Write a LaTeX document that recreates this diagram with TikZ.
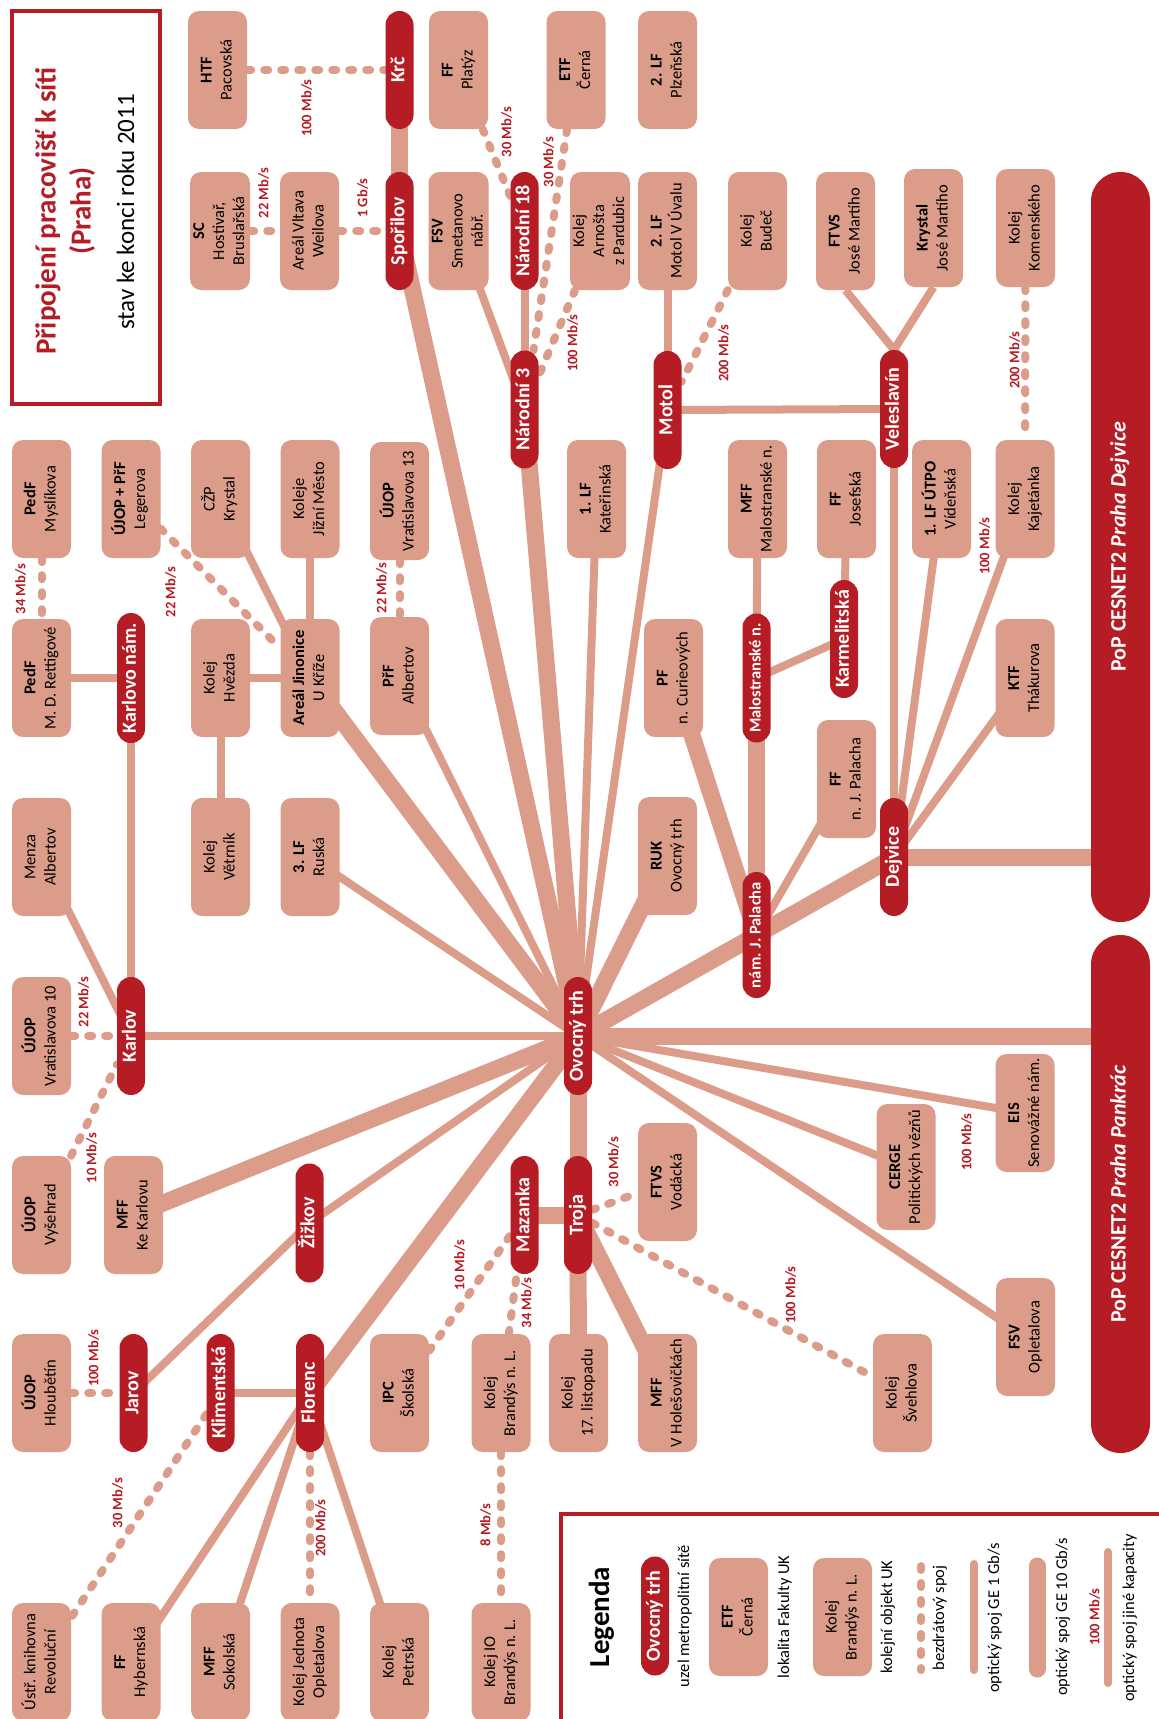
\documentclass[tikz,border=0pt]{standalone}
\usepackage{fontspec}
\setmainfont{Carlito}
\usepackage{graphicx}
\usepackage{xcolor}
\usepackage{tikz}
\usetikzlibrary{backgrounds}
\definecolor{cuni}{RGB}{181,28,36}
\definecolor{peach}{RGB}{219,157,137}
\newcommand{\vtxt}[1]{\rotatebox{90}{\begin{tabular}{@{}c@{}}#1\end{tabular}}}

\begin{document}
\begin{tikzpicture}[x=1pt, y=-1pt,
  every node/.style={inner sep=0pt, align=center},
  site/.style={fill=peach, rounded corners=11pt, minimum width=59pt, minimum height=118pt, font=\fontsize{16.5}{20}\selectfont},
  hub/.style={fill=cuni, text=white, rounded corners=13.9pt, minimum width=28pt, minimum height=118pt, font=\bfseries\fontsize{20}{24}\selectfont},
  hubsm/.style={hub, font=\bfseries\fontsize{16.5}{20}\selectfont},
  pop/.style={fill=cuni, text=white, rounded corners=29.4pt, minimum width=59pt, font=\bfseries\fontsize{22}{26}\selectfont},
  rate/.style={text=cuni, font=\bfseries\fontsize{14.5}{17}\selectfont},
  gbit/.style={draw=peach, line width=8pt},
  tengbit/.style={draw=peach, line width=17pt},
  wless/.style={draw=peach, line width=8pt, line cap=round, dash pattern=on 4pt off 13pt}]
\useasboundingbox (0,0) rectangle (1159,1719);

\draw[cuni, line width=4pt, fill=white] (12,11) rectangle (160,404);
\node[text=cuni, font=\bfseries\fontsize{29}{35}\selectfont] (title) at (66,211) {\vtxt{Připojení pracovišť k síti\\(Praha)}};
\node[font=\fontsize{25}{30}\selectfont] (subtitle) at (128,212) {\vtxt{stav ke konci roku 2011}};

\node[site] (htf) at (217.5,70) {\vtxt{\textbf{HTF}\\Pacovská}};
\node[hub] (krc) at (399.5,70) {\vtxt{Krč}};
\node[site] (ffplatyz) at (458.5,70) {\vtxt{\textbf{FF}\\Platýz}};
\node[site] (etf) at (576,70) {\vtxt{\textbf{ETF}\\Černá}};
\node[site] (lfplzen) at (667.5,70) {\vtxt{\textbf{2. LF}\\Plzeňská}};

\node[site] (sc) at (220,231) {\vtxt{\textbf{SC}\\Hostivař,\\Bruslařská}};
\node[site] (vltava) at (309.5,231) {\vtxt{Areál Vltava\\Weilova}};
\node[hub] (sporilov) at (399.5,231) {\vtxt{Spořilov}};
\node[site] (fsvsmet) at (458.5,231) {\vtxt{\textbf{FSV}\\Smetanovo\\nábř.}};
\node[hub] (narodni18) at (524.5,231) {\vtxt{Národní 18}};
\node[site] (arnost) at (600,231) {\vtxt{Kolej\\Arnošta\\z Pardubic}};
\node[site] (lfmotol) at (667.5,231) {\vtxt{\textbf{2. LF}\\Motol V Úvalu}};
\node[site] (budec) at (757.5,231) {\vtxt{Kolej\\Budeč}};
\node[site] (ftvsmarti) at (845.5,231) {\vtxt{\textbf{FTVS}\\José Martího}};
\node[site] (krystal) at (933.5,228) {\vtxt{\textbf{Krystal}\\José Martího}};
\node[site] (komensky) at (1025.5,228) {\vtxt{Kolej\\Komenského}};
\node[pop, minimum height=750pt] (popdej) at (1120.5,547) {\vtxt{PoP CESNET2 \textit{Praha Dejvice}}};

\node[hub] (narodni3) at (524.5,409.5) {\vtxt{Národní 3}};
\node[hub] (motol) at (667.5,410) {\vtxt{Motol}};
\node[hub] (veleslavin) at (894,409) {\vtxt{Veleslavín}};

\node[site] (myslik) at (41.5,499) {\vtxt{\textbf{PedF}\\Myslíkova}};
\node[site] (legerova) at (131,499) {\vtxt{\textbf{ÚJOP + PřF}\\Legerova}};
\node[site] (czp) at (220.5,499) {\vtxt{CŽP\\Krystal}};
\node[site] (jizni) at (310,499) {\vtxt{Koleje\\Jižní Město}};
\node[site] (vrat13) at (399.5,501) {\vtxt{\textbf{ÚJOP}\\Vratislavova 13}};
\node[site] (katerin) at (596.5,499) {\vtxt{\textbf{1. LF}\\Kateřinská}};
\node[site] (mffmal) at (757.5,499) {\vtxt{\textbf{MFF}\\Malostranské n.}};
\node[site] (josef) at (846.5,499) {\vtxt{\textbf{FF}\\Josefská}};
\node[site] (utpo) at (941.5,499) {\vtxt{\textbf{1. LF ÚTPO}\\Vídeňská}};
\node[site] (kajetan) at (1025,499) {\vtxt{Kolej\\Kajetánka}};

\node[site] (rettig) at (41.5,678) {\vtxt{\textbf{PedF}\\M. D. Rettigové}};
\node[hub, minimum height=130pt] (karlovonam) at (131,678) {\vtxt{Karlovo nám.}};
\node[site] (hvezda) at (220.5,678) {\vtxt{Kolej\\Hvězda}};
\node[site] (jinonice) at (310,678) {\vtxt{\textbf{Areál Jinonice}\\U Kříže}};
\node[site] (albertov) at (399.5,676) {\vtxt{\textbf{PřF}\\Albertov}};
\node[site] (curie) at (673.5,678) {\vtxt{\textbf{PF}\\n. Curieových}};
\node[hubsm, minimum height=129pt] (malostr) at (756.5,678) {\vtxt{Malostranské n.}};
\node[hub] (karmel) at (844,639) {\vtxt{Karmelitská}};
\node[site] (ktf) at (1025,678) {\vtxt{\textbf{KTF}\\Thákurova}};

\node[site] (menza) at (41.5,857) {\vtxt{Menza\\Albertov}};
\node[site] (vetrnik) at (220.5,857) {\vtxt{Kolej\\Větrník}};
\node[site] (lf3) at (310,857) {\vtxt{\textbf{3. LF}\\Ruská}};
\node[site] (ruk) at (667.5,856) {\vtxt{\textbf{RUK}\\Ovocný trh}};
\node[site] (ffpalach) at (846.5,779) {\vtxt{\textbf{FF}\\n. J. Palacha}};
\node[hubsm, minimum height=126pt] (palach) at (756.5,935) {\vtxt{nám. J. Palacha}};
\node[hub] (dejvice) at (894,857) {\vtxt{Dejvice}};

\node[site] (vrat10) at (41.5,1036) {\vtxt{\textbf{ÚJOP}\\Vratislavova 10}};
\node[hub] (karlov) at (131,1036) {\vtxt{Karlov}};
\node[hub] (ovocny) at (578,1036) {\vtxt{Ovocný trh}};
\node[site] (eis) at (1025,1113) {\vtxt{\textbf{EIS}\\Senovážné nám.}};
\node[site, minimum height=126pt] (cerge) at (906,1167) {\vtxt{\textbf{CERGE}\\Politických vězňů}};
\node[pop, minimum height=518pt] (poppank) at (1120.5,1194) {\vtxt{PoP CESNET2 \textit{Praha Pankrác}}};

\node[site] (vysehrad) at (41.5,1215) {\vtxt{\textbf{ÚJOP}\\Vyšehrad}};
\node[site] (kekarlovu) at (133.5,1215) {\vtxt{\textbf{MFF}\\Ke Karlovu}};
\node[hub, minimum height=119pt] (zizkov) at (309.5,1223) {\vtxt{Žižkov}};
\node[hub] (mazanka) at (524.5,1215) {\vtxt{Mazanka}};
\node[hub] (troja) at (578,1215) {\vtxt{Troja}};
\node[site] (vodacka) at (667.5,1182) {\vtxt{\textbf{FTVS}\\Vodácká}};

\node[site] (hloubetin) at (41.5,1393) {\vtxt{\textbf{ÚJOP}\\Hloubětín}};
\node[hub] (jarov) at (133.5,1393) {\vtxt{Jarov}};
\node[hub] (kliment) at (220.5,1393) {\vtxt{Klimentská}};
\node[hub] (florenc) at (310,1393) {\vtxt{Florenc}};
\node[site] (ipc) at (399.5,1393) {\vtxt{\textbf{IPC}\\Školská}};
\node[site] (brandys) at (501,1393) {\vtxt{Kolej\\Brandýs n. L.}};
\node[site] (listopad) at (578.5,1393) {\vtxt{Kolej\\17. listopadu}};
\node[site] (holes) at (667.5,1393) {\vtxt{\textbf{MFF}\\V Holešovičkách}};
\node[site] (svehla) at (902.5,1393) {\vtxt{Kolej\\Švehlova}};
\node[site] (fsvopl) at (1025.5,1337) {\vtxt{\textbf{FSV}\\Opletalova}};

\node[site] (knihovna) at (41.5,1662) {\vtxt{Ústř. knihovna\\Revoluční}};
\node[site] (hybern) at (131,1662) {\vtxt{\textbf{FF}\\Hybernská}};
\node[site] (sokol) at (220.5,1662) {\vtxt{\textbf{MFF}\\Sokolská}};
\node[site] (jednota) at (310,1662) {\vtxt{Kolej Jednota\\Opletalova}};
\node[site] (petrska) at (399.5,1662) {\vtxt{Kolej\\Petrská}};
\node[site] (kolejio) at (501,1662) {\vtxt{Kolej IO\\Brandýs n. L.}};

\node[rate] (r-htf) at (308,108) {\vtxt{100 Mb/s}};
\node[rate] (r-sc) at (265,193) {\vtxt{22 Mb/s}};
\node[rate] (r-vltava) at (364,198) {\vtxt{1 Gb/s}};
\node[rate] (r-platyz) at (508,132) {\vtxt{30 Mb/s}};
\node[rate] (r-etf) at (550,162) {\vtxt{30 Mb/s}};
\node[rate] (r-arnost) at (574,343) {\vtxt{100 Mb/s}};
\node[rate] (r-budec) at (725,353) {\vtxt{200 Mb/s}};
\node[rate] (r-komensky) at (1016,360) {\vtxt{200 Mb/s}};
\node[rate] (r-kajetan) at (986,546) {\vtxt{100 Mb/s}};
\node[rate] (r-myslik) at (22,589) {\vtxt{34 Mb/s}};
\node[rate] (r-legerova) at (172,592) {\vtxt{22 Mb/s}};
\node[rate] (r-vrat13) at (383,588) {\vtxt{22 Mb/s}};
\node[rate] (r-vrat10) at (85,1002) {\vtxt{22 Mb/s}};
\node[rate] (r-vysehrad) at (93,1158) {\vtxt{10 Mb/s}};
\node[rate] (r-eis) at (968,1142) {\vtxt{100 Mb/s}};
\node[rate] (r-vodacka) at (615,1162) {\vtxt{30 Mb/s}};
\node[rate] (r-ipc) at (461,1265) {\vtxt{10 Mb/s}};
\node[rate] (r-brandys) at (528,1303) {\vtxt{34 Mb/s}};
\node[rate] (r-svehla) at (792,1295) {\vtxt{100 Mb/s}};
\node[rate] (r-hloubetin) at (95,1358) {\vtxt{100 Mb/s}};
\node[rate] (r-knihovna) at (119,1503) {\vtxt{30 Mb/s}};
\node[rate] (r-jednota) at (322,1528) {\vtxt{200 Mb/s}};
\node[rate] (r-kolejio) at (487,1525) {\vtxt{8 Mb/s}};

\begin{scope}[on background layer]
\draw[wless] (htf) -- (krc);
\draw[wless] (sc) -- (vltava);
\draw[wless] (vltava) -- (sporilov);
\draw[wless] (ffplatyz) -- (narodni18);
\draw[wless] (etf) -- (narodni3);
\draw[wless] (arnost) -- (narodni3);
\draw[wless] (budec) -- (motol);
\draw[wless] (komensky) -- (kajetan);
\draw[wless] (myslik) -- (rettig);
\draw[wless] (legerova) -- (jinonice);
\draw[wless] (vrat13) -- (albertov);
\draw[wless] (vrat10) -- (karlov);
\draw[wless] (vysehrad) -- (karlov);
\draw[wless] (hloubetin) -- (jarov);
\draw[wless] (kliment) -- (knihovna);
\draw[wless] (florenc) -- (jednota);
\draw[wless] (ipc) -- (mazanka);
\draw[wless] (brandys) -- (mazanka);
\draw[wless] (brandys) -- (kolejio);
\draw[wless] (troja) -- (vodacka);
\draw[wless] (troja) -- (svehla);

\draw[gbit] (fsvsmet.center) -- (narodni3.center);
\draw[gbit] (narodni18.center) -- (narodni3.center);
\draw[gbit] (lfmotol.center) -- (motol.center);
\draw[gbit] (motol.center) -- (veleslavin.center);
\draw[gbit] (motol.center) -- (ovocny.center);
\draw[gbit, shorten >=-16pt] (ftvsmarti.south) -- (veleslavin.north);
\draw[gbit, shorten >=-16pt] (krystal.south) -- (veleslavin.north);
\draw[gbit] (veleslavin.center) -- (dejvice.center);
\draw[gbit] (utpo.center) -- (dejvice.center);
\draw[gbit] (kajetan.center) -- (dejvice.center);
\draw[gbit] (ktf.center) -- (dejvice.center);
\draw[gbit] (ffpalach.center) -- (palach.center);
\draw[gbit] (mffmal.center) -- (malostr.center);
\draw[gbit] (malostr.center) -- (karmel.center);
\draw[gbit] (karmel.center) -- (josef.center);
\draw[gbit] (katerin.center) -- (ovocny.center);
\draw[gbit] (albertov.center) -- (ovocny.center);
\draw[gbit] (czp.center) -- (jinonice.center);
\draw[gbit] (jizni.center) -- (jinonice.center);
\draw[gbit] (hvezda.center) -- (jinonice.center);
\draw[gbit] (hvezda.center) -- (vetrnik.center);
\draw[gbit] (rettig.center) -- (karlovonam.center);
\draw[gbit] (karlovonam.center) -- (karlov.center);
\draw[gbit] (menza.center) -- (karlov.center);
\draw[gbit] (lf3.center) -- (ovocny.center);
\draw[gbit] (karlov.center) -- (ovocny.center);
\draw[gbit] (zizkov.center) -- (ovocny.center);
\draw[gbit] (jarov.center) -- (zizkov.center);
\draw[gbit] (kliment.center) -- (florenc.center);
\draw[gbit] (florenc.center) -- (hybern.center);
\draw[gbit] (florenc.center) -- (sokol.center);
\draw[gbit] (florenc.center) -- (petrska.center);
\draw[gbit] (ovocny.center) -- (eis.center);
\draw[gbit] (ovocny.center) -- (cerge.center);
\draw[gbit] (ovocny.center) -- (fsvopl.center);

\draw[tengbit] (krc.center) -- (sporilov.center);
\draw[tengbit] (sporilov.center) -- (ovocny.center);
\draw[tengbit] (narodni3.center) -- (ovocny.center);
\draw[tengbit] (dejvice.center) -- (dejvice -| popdej);
\draw[tengbit] (dejvice.center) -- (palach.center);
\draw[tengbit] (palach.center) -- (ovocny.center);
\draw[tengbit] (malostr.center) -- (palach.center);
\draw[tengbit] (curie.center) -- (palach.center);
\draw[tengbit] (ruk.center) -- (ovocny.center);
\draw[tengbit] (jinonice.center) -- (ovocny.center);
\draw[tengbit] (kekarlovu.center) -- (ovocny.center);
\draw[tengbit] (florenc.center) -- (ovocny.center);
\draw[tengbit] (troja.center) -- (ovocny.center);
\draw[tengbit] (mazanka.center) -- (troja.center);
\draw[tengbit] (troja.center) -- (listopad.center);
\draw[tengbit] (troja.center) -- (holes.center);
\draw[tengbit] (ovocny.center) -- (ovocny -| poppank);
\end{scope}

\draw[cuni, line width=4pt] (560.5,1513.5) rectangle (1180,1740);
\node[font=\bfseries\fontsize{29}{35}\selectfont] (legenda) at (602,1617) {\vtxt{Legenda}};
\node[hub, minimum height=119pt] (lg-hub) at (655,1616) {\vtxt{Ovocný trh}};
\node[font=\fontsize{16.5}{20}\selectfont] (lg-hubtxt) at (685,1616) {\vtxt{uzel metropolitní sítě}};
\node[site] (lg-site) at (738.5,1617) {\vtxt{\textbf{ETF}\\Černá}};
\node[font=\fontsize{16.5}{20}\selectfont] (lg-sitetxt) at (785,1617) {\vtxt{lokalita Fakulty UK}};
\node[site] (lg-kolej) at (842.5,1617) {\vtxt{Kolej\\Brandýs n. L.}};
\node[font=\fontsize{16.5}{20}\selectfont] (lg-kolejtxt) at (888,1617) {\vtxt{kolejní objekt UK}};
\coordinate (lgw-a) at (921,1566);
\coordinate (lgw-b) at (921,1670);
\draw[wless] (lgw-a) -- (lgw-b);
\node[font=\fontsize{16.5}{20}\selectfont] (lg-wtxt) at (940,1618) {\vtxt{bezdrátový spoj}};
\coordinate (lg1-a) at (974,1564);
\coordinate (lg1-b) at (974,1670);
\draw[gbit, line cap=round] (lg1-a) -- (lg1-b);
\node[font=\fontsize{16.5}{20}\selectfont] (lg-1txt) at (995,1618) {\vtxt{optický spoj GE 1 Gb/s}};
\coordinate (lg10-a) at (1037,1566);
\coordinate (lg10-b) at (1037,1669);
\draw[tengbit, line cap=round] (lg10-a) -- (lg10-b);
\node[font=\fontsize{16.5}{20}\selectfont] (lg-10txt) at (1063,1617) {\vtxt{optický spoj GE 10 Gb/s}};
\coordinate (lgo-a) at (1108,1552);
\coordinate (lgo-b) at (1108,1683);
\draw[gbit, line cap=round] (lgo-a) -- (lgo-b);
\node[rate] (lg-rate) at (1096,1617) {\vtxt{100 Mb/s}};
\node[font=\fontsize{16.5}{20}\selectfont] (lg-otxt) at (1130,1618) {\vtxt{optický spoj jiné kapacity}};
\end{tikzpicture}
\end{document}
